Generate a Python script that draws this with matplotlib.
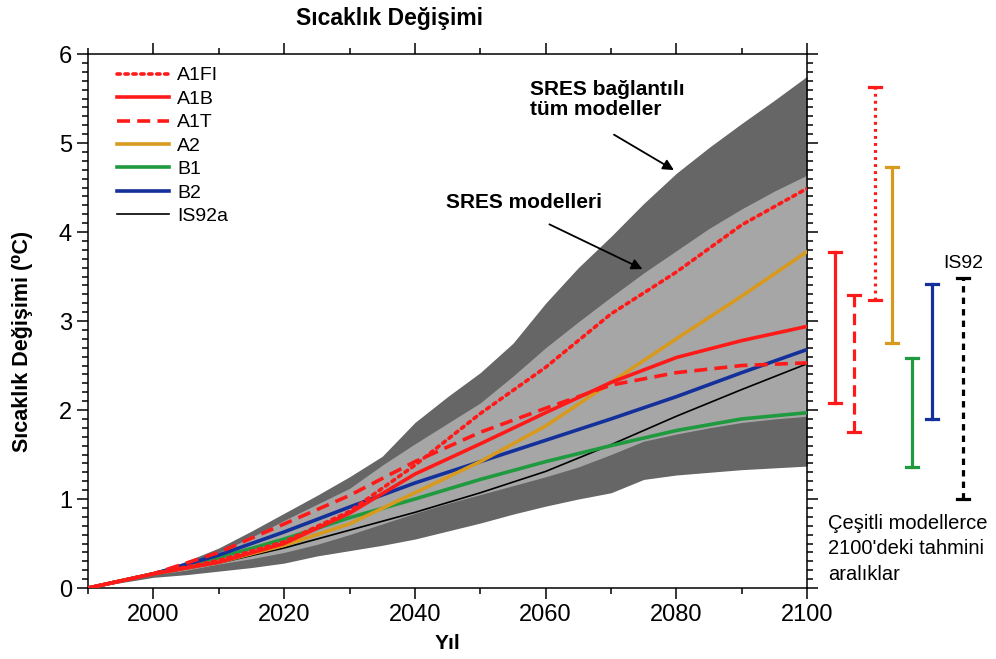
import numpy as np
import matplotlib.pyplot as plt
from matplotlib.ticker import MultipleLocator

plt.rcParams['font.family'] = ['Liberation Sans', 'DejaVu Sans']

# envelopes (5-year steps)
band_years = [1990, 2000, 2005, 2010, 2015, 2020, 2025, 2030, 2035, 2040, 2045,
              2050, 2055, 2060, 2065, 2070, 2075, 2080, 2085, 2090, 2095, 2100]
all_hi = [0, 0.17, 0.30, 0.45, 0.64, 0.84, 1.04, 1.25, 1.48, 1.86, 2.15,
          2.42, 2.75, 3.20, 3.60, 3.95, 4.32, 4.66, 4.95, 5.22, 5.48, 5.75]
all_lo = [0, 0.12, 0.15, 0.19, 0.23, 0.28, 0.36, 0.42, 0.48, 0.55, 0.64,
          0.73, 0.83, 0.92, 1.00, 1.07, 1.22, 1.27, 1.30, 1.33, 1.35, 1.37]
sres_hi = [0, 0.16, 0.27, 0.40, 0.57, 0.76, 0.94, 1.12, 1.38, 1.62, 1.85,
           2.08, 2.38, 2.70, 2.99, 3.27, 3.54, 3.79, 4.04, 4.26, 4.46, 4.64]
sres_lo = [0, 0.15, 0.20, 0.27, 0.33, 0.40, 0.49, 0.60, 0.72, 0.84, 0.95,
           1.05, 1.15, 1.25, 1.36, 1.50, 1.65, 1.73, 1.80, 1.86, 1.90, 1.93]

# scenario curves (decades)
years = [1990, 2000, 2010, 2020, 2030, 2040, 2050, 2060, 2070, 2080, 2090, 2100]
a1fi = [0, 0.16, 0.31, 0.52, 0.86, 1.38, 1.96, 2.48, 3.08, 3.55, 4.08, 4.49]
a1b = [0, 0.16, 0.29, 0.50, 0.84, 1.28, 1.62, 1.97, 2.31, 2.59, 2.78, 2.94]
a1t = [0, 0.16, 0.40, 0.72, 1.04, 1.42, 1.75, 2.02, 2.28, 2.42, 2.50, 2.53]
a2 = [0, 0.16, 0.29, 0.48, 0.72, 1.07, 1.42, 1.82, 2.31, 2.80, 3.28, 3.78]
b1 = [0, 0.16, 0.34, 0.55, 0.79, 1.00, 1.22, 1.42, 1.60, 1.77, 1.90, 1.97]
b2 = [0, 0.16, 0.37, 0.63, 0.91, 1.18, 1.42, 1.66, 1.90, 2.15, 2.42, 2.68]
is92a = [0, 0.15, 0.28, 0.45, 0.65, 0.85, 1.07, 1.31, 1.61, 1.93, 2.23, 2.52]

# ranges in 2100
range_names = ['A1B', 'A1T', 'A1FI', 'A2', 'B1', 'B2', 'IS92']
range_lo = [2.08, 1.75, 3.24, 2.75, 1.36, 1.90, 1.00]
range_hi = [3.78, 3.29, 5.63, 4.73, 2.58, 3.42, 3.48]

RED = '#ff1a1a'
ORANGE = '#d89a1e'
GREEN = '#1f9a3f'
BLUE = '#14309a'
DOT = (0, (0.9, 1.3))
DASH = (0, (3.6, 2.0))

fig = plt.figure(figsize=(9.96, 6.59), dpi=100)
ax = fig.add_axes([0.0884, 0.1077, 0.7219, 0.8103])

ax.fill_between(band_years, all_lo, all_hi, color='#666666', lw=0)
ax.fill_between(band_years, sres_lo, sres_hi, color='#a6a6a6', lw=0)

ax.plot(years, is92a, color='black', lw=1.2, label='IS92a', zorder=3)
ax.plot(years, b1, color=GREEN, lw=2.6, label='B1', zorder=3)
ax.plot(years, b2, color=BLUE, lw=2.6, label='B2', zorder=3)
ax.plot(years, a2, color=ORANGE, lw=2.6, label='A2', zorder=3)
ax.plot(years, a1b, color=RED, lw=2.6, label='A1B', zorder=4)
ax.plot(years, a1t, color=RED, lw=2.6, ls=DASH, label='A1T', zorder=4)
ax.plot(years, a1fi, color=RED, lw=2.6, ls=DOT, dash_capstyle='round',
        label='A1FI', zorder=4)

handles, labels = ax.get_legend_handles_labels()
order = ['A1FI', 'A1B', 'A1T', 'A2', 'B1', 'B2', 'IS92a']
hmap = dict(zip(labels, handles))
ax.legend([hmap[k] for k in order], order, loc='upper left',
          bbox_to_anchor=(0.04, 0.976), frameon=False, fontsize=14,
          handlelength=2.7, handletextpad=0.4, labelspacing=0.30,
          borderaxespad=0, borderpad=0)

# range bars to the right of the axes
bar_x = [2104.3, 2107.2, 2110.4, 2113.0, 2116.1, 2119.1, 2123.9]
bar_c = [RED, RED, RED, ORANGE, GREEN, BLUE, 'black']
bar_ls = ['-', DASH, DOT, '-', '-', '-', (0, (2.0, 1.6))]
for x, lo, hi, c, ls in zip(bar_x, range_lo, range_hi, bar_c, bar_ls):
    ax.plot([x, x], [lo, hi], color=c, lw=2.3, ls=ls, clip_on=False)
    ax.plot([x - 0.9, x + 0.9], [lo, lo], color=c, lw=2.3, clip_on=False)
    ax.plot([x - 0.9, x + 0.9], [hi, hi], color=c, lw=2.3, clip_on=False)
ax.text(bar_x[-1], range_hi[-1] + 0.07, 'IS92', ha='center', va='bottom',
        fontsize=14, clip_on=False)
ax.text(2103.2, 0.44, "Çeşitli modellerce\n2100'deki tahmini\naralıklar",
        ha='left', va='center', fontsize=14.5, linespacing=1.42, clip_on=False)

# annotations
ax.text(2057.6, 5.49, 'SRES bağlantılı\ntüm modeller', ha='left', va='center',
        fontsize=15, fontweight='bold', linespacing=1.1)
ax.annotate('', xy=(2080.0, 4.68), xytext=(2070.1, 5.11),
            arrowprops=dict(arrowstyle='-|>', color='black', lw=1.3,
                            mutation_scale=16))
ax.text(2044.7, 4.33, 'SRES modelleri', ha='left', va='center',
        fontsize=15, fontweight='bold')
ax.annotate('', xy=(2075.2, 3.57), xytext=(2060.2, 4.10),
            arrowprops=dict(arrowstyle='-|>', color='black', lw=1.3,
                            mutation_scale=16))

ax.set_xlim(1990, 2100)
ax.set_ylim(0, 6)
ax.xaxis.set_major_locator(MultipleLocator(20))
ax.xaxis.set_minor_locator(MultipleLocator(10))
ax.yaxis.set_major_locator(MultipleLocator(1))
ax.yaxis.set_minor_locator(MultipleLocator(0.1))
ax.tick_params(which='both', direction='out', top=True, right=True,
               labelsize=17, width=1.1)
ax.tick_params(which='major', length=8)
ax.tick_params(which='minor', length=4)
for s in ax.spines.values():
    s.set_linewidth(1.1)

ax.set_xlabel('Yıl', fontsize=15, fontweight='bold', labelpad=6)
ax.set_ylabel('Sıcaklık Değişimi (⁰C)', fontsize=15.5, fontweight='bold')
ax.yaxis.set_label_coords(-0.076, 0.462)
fig.text(0.391, 0.972, 'Sıcaklık Değişimi', ha='center', va='center',
         fontsize=16.5, fontweight='bold')

fig.savefig('out.png', dpi=100)
